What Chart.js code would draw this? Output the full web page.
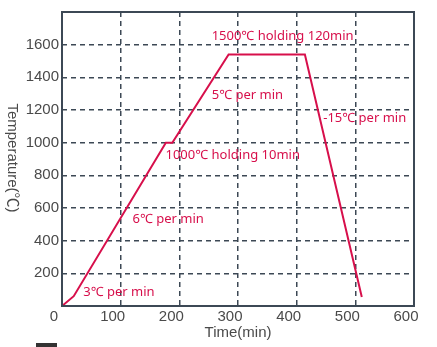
<!DOCTYPE html>
<html lang="en">
<head>
  <meta charset="UTF-8" />
  <title>Firing curve</title>
  <script src="https://cdn.jsdelivr.net/npm/chart.js"></script>
  <style>
    html, body {
      margin: 0;
      padding: 0;
      background: #fff;
    }
    .chart-box {
      width: 437px;
      height: 347px;
    }
  </style>
</head>
<body>
  <div class="chart-box"><canvas id="curve"></canvas></div>

  <script>
    // firing schedule: time (min) vs furnace temperature (°C)
    const timeMin = [0, 20, 177, 188, 284, 414, 511];
    const tempC = [0, 60, 1000, 1000, 1540, 1540, 55];

    // step notes, placed in data coordinates
    const noteText = ['1500℃ holding 120min', '5℃ per min', '-15℃ per min',
      '1000℃ holding 10min', '6℃ per min', '3℃ per min'];
    const noteX = [376, 316, 516, 291, 181, 97];
    const noteY = [1651, 1287, 1152, 924, 531, 85];

    const xTicks = [0, 100, 200, 300, 400, 500, 600];
    const yTicks = [200, 400, 600, 800, 1000, 1200, 1400, 1600];

    const RED = '#d70f4b';
    const INK = '#3c4855';
    const LABEL = '#4a4a4a';

    // frame, axis titles and step notes
    const decor = {
      id: 'decor',
      afterDraw(chart) {
        const { ctx, chartArea: a, scales } = chart;
        ctx.save();
        ctx.strokeStyle = INK;
        ctx.lineWidth = 2;
        ctx.setLineDash([]);
        ctx.strokeRect(a.left, a.top, a.right - a.left, a.bottom - a.top);

        ctx.fillStyle = RED;
        ctx.font = '13px "Noto Sans", "Noto Sans CJK SC", sans-serif';
        ctx.textAlign = 'center';
        ctx.textBaseline = 'middle';
        noteText.forEach((t, i) => {
          ctx.fillText(t, scales.x.getPixelForValue(noteX[i]), scales.y.getPixelForValue(noteY[i]));
        });

        ctx.fillStyle = LABEL;
        ctx.font = '15px "Liberation Sans", "Noto Sans CJK SC", sans-serif';
        ctx.fillText('Time(min)', (a.left + a.right) / 2, 333);

        ctx.translate(12, (a.top + a.bottom) / 2 - 1);
        ctx.rotate(Math.PI / 2);
        ctx.fillText('Temperature(℃)', 0, 0);
        ctx.restore();

        // short dark bar under the axis
        ctx.save();
        ctx.fillStyle = '#333';
        ctx.fillRect(36, 343, 21, 4);
        ctx.restore();
      }
    };

    new Chart(document.getElementById('curve').getContext('2d'), {
      type: 'line',
      data: {
        datasets: [{
          data: timeMin.map((t, i) => ({ x: t, y: tempC[i] })),
          borderColor: RED,
          borderWidth: 2,
          pointRadius: 0,
          tension: 0,
          fill: false
        }]
      },
      options: {
        responsive: true,
        maintainAspectRatio: false,
        animation: false,
        layout: {
          padding: { top: 12, right: 23, left: 0, bottom: 0 }
        },
        scales: {
          x: {
            type: 'linear',
            min: 0,
            max: 600,
            afterBuildTicks: s => { s.ticks = xTicks.map(v => ({ value: v })); },
            afterFit: s => { s.height = 41; },
            ticks: {
              color: LABEL,
              font: { size: 15, family: '"Liberation Sans", Arial, sans-serif' },
              padding: 2,
              labelOffset: -8,
              maxRotation: 0,
              autoSkip: false,
              callback: v => String(v)
            },
            grid: { color: INK, lineWidth: 1.5, drawTicks: false },
            border: { display: false, dash: [5, 4] }
          },
          y: {
            min: 0,
            max: 1800,
            afterBuildTicks: s => { s.ticks = yTicks.map(v => ({ value: v })); },
            afterFit: s => { s.width = 62; },
            ticks: {
              color: LABEL,
              font: { size: 15, family: '"Liberation Sans", Arial, sans-serif' },
              padding: 3,
              autoSkip: false,
              callback: v => String(v)
            },
            grid: { color: INK, lineWidth: 1.5, drawTicks: false },
            border: { display: false, dash: [5, 4] }
          }
        },
        plugins: {
          legend: { display: false },
          tooltip: { enabled: false }
        }
      },
      plugins: [decor]
    });
  </script>
</body>
</html>
